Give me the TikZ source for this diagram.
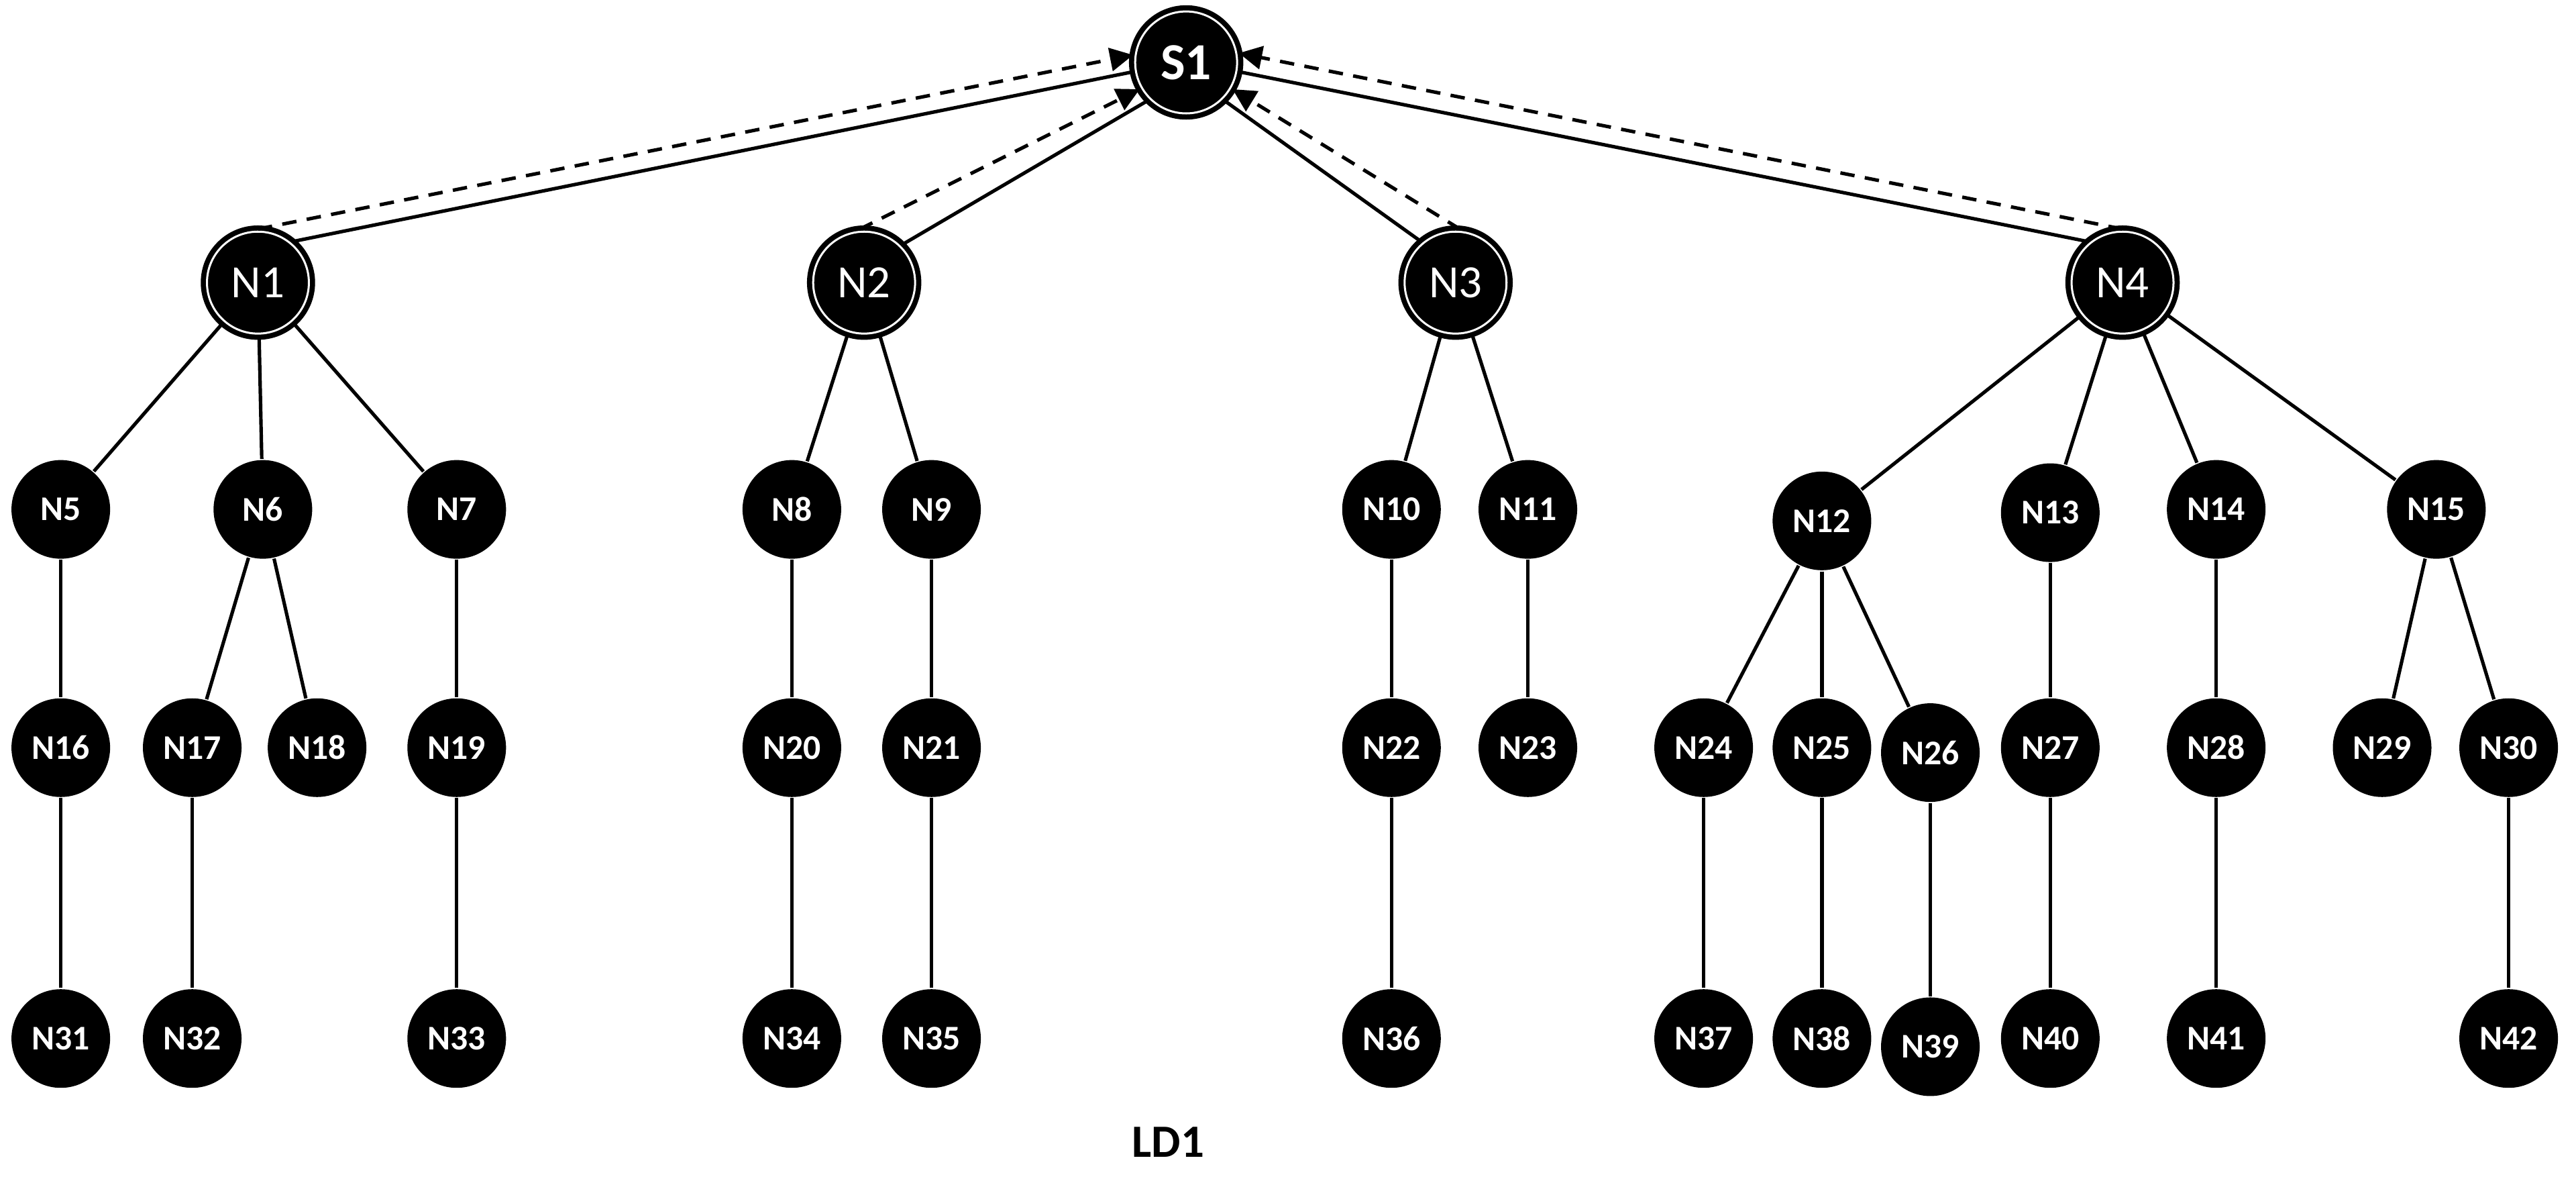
\documentclass[tikz,border=0pt]{standalone}
\usepackage{fontspec}
\setmainfont{Carlito}
\usetikzlibrary{arrows.meta}
\begin{document}
\begin{tikzpicture}[x=0.01cm,y=-0.01cm,
 sm/.style={circle,fill=black,minimum size=0.6cm,inner sep=0pt,text=white,font=\fontsize{6}{6}\selectfont\bfseries},
 big/.style={circle,fill=black,draw=black,line width=0.9pt,double=white,double distance=0.35pt,minimum size=0.62cm,inner sep=0pt,text=white,font=\fontsize{8}{8}\selectfont},
 ln/.style={line width=0.6pt},
 dsh/.style={line width=0.6pt,dash pattern=on 2.5pt off 1.8pt,-{Triangle[length=4pt,width=4pt]}}]
\useasboundingbox (0,0) rectangle (1568,722);
\node[big,font=\fontsize{9}{9}\selectfont\bfseries] (S1) at (722,38) {S1};
\foreach \n/\x in {N1/157,N2/526,N3/886,N4/1292}{\node[big] (\n) at (\x,172) {\n};}
\foreach \n/\x/\y in {N5/37/310,N6/160/310,N7/278/310,N8/482/310,N9/567/310,N10/847/310,N11/930/310,N12/1109/317,N13/1248/312,N14/1349/310,N15/1483/310,
N16/37/455,N17/117/455,N18/193/455,N19/278/455,N20/482/455,N21/567/455,N22/847/455,N23/930/455,N24/1037/455,N25/1109/455,N26/1175/458,N27/1248/455,N28/1349/455,N29/1450/455,N30/1527/455,
N31/37/632,N32/117/632,N33/278/632,N34/482/632,N35/567/632,N36/847/632,N37/1037/632,N38/1109/632,N39/1175/637,N40/1248/632,N41/1349/632,N42/1527/632}{\node[sm] (\n) at (\x,\y) {\n};}
\foreach \a/\b in {N1/N5,N1/N6,N1/N7,N6/N17,N6/N18,N5/N16,N7/N19,N16/N31,N17/N32,N19/N33,N2/N8,N2/N9,N8/N20,N20/N34,N9/N21,N21/N35,N3/N10,N3/N11,N10/N22,N22/N36,N11/N23,N4/N12,N4/N13,N4/N14,N4/N15,N12/N24,N12/N25,N12/N26,N13/N27,N27/N40,N14/N28,N28/N41,N15/N29,N15/N30,N24/N37,N25/N38,N26/N39,N30/N42}{\draw[ln] (\a)--(\b);}
% solid links
\draw[ln] (N1.50)--(S1.190);
\draw[ln] (N2.45)--(S1.225);
\draw[ln] (N3.130)--(S1.315);
\draw[ln] (N4.130)--(S1.350);
% dashed links
\draw[dsh] (N1.north)--(S1.172);
\draw[dsh] (N2.95)--(S1.210);
\draw[dsh] (N3.85)--(S1.330);
\draw[dsh] (N4.north)--(S1.10);
\node[font=\fontsize{8}{8}\selectfont\bfseries] (LD) at (711,695) {LD1};
\end{tikzpicture}
\end{document}
